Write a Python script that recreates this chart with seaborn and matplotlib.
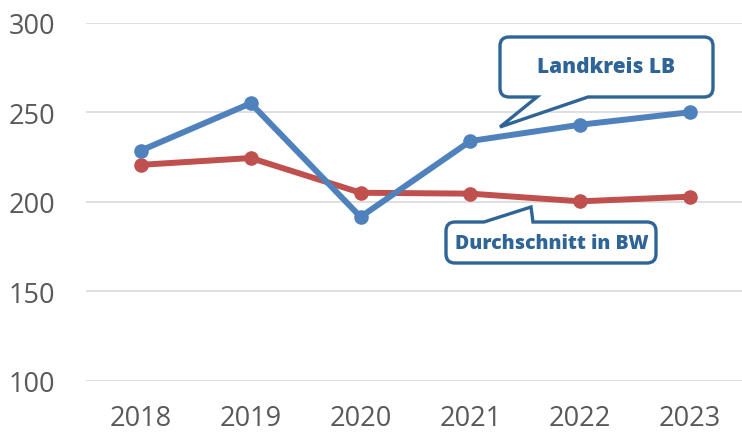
import matplotlib
matplotlib.use("Agg")
import matplotlib.pyplot as plt
import seaborn as sns
import pandas as pd
from matplotlib.path import Path
from matplotlib.patches import PathPatch

years = ["2018", "2019", "2020", "2021", "2022", "2023"]
landkreis_lb = [228.6, 255.0, 191.5, 233.9, 243.0, 250.0]
durchschnitt_bw = [220.6, 224.4, 205.0, 204.5, 200.2, 202.8]
yticks = [100, 150, 200, 250, 300]
label_lb = "Landkreis LB"
label_bw = "Durchschnitt in BW"

BLUE = "#4F81BD"
RED = "#C0504D"
DARK = "#2F6497"

sns.set_theme(style="white")
plt.rcParams["font.family"] = ["Open Sans", "DejaVu Sans"]

W, H = 742, 435
fig = plt.figure(figsize=(W / 100, H / 100), dpi=100)
ax = fig.add_axes([86 / W, 1 - 381.7 / H, 1 - 86 / W + 3 / W, (381.7 - 23.7) / H])

df = pd.DataFrame({"year": years, "lb": landkreis_lb, "bw": durchschnitt_bw})
sns.lineplot(data=df, x="year", y="bw", ax=ax, color=RED, linewidth=4.3,
             marker="o", markersize=10.5, markeredgewidth=0, sort=False, zorder=3)
sns.lineplot(data=df, x="year", y="lb", ax=ax, color=BLUE, linewidth=4.3,
             marker="o", markersize=10.5, markeredgewidth=0, sort=False, zorder=4)

ax.set_ylim(100, 300)
ax.set_xlim(-0.5, len(years) - 0.5)
ax.set_yticks(yticks)
ax.set_xlabel("")
ax.set_ylabel("")
ax.grid(axis="y", color="#D9D9D9", linewidth=1.2)
ax.grid(axis="x", visible=False)
ax.set_axisbelow(True)
for s in ax.spines.values():
    s.set_visible(False)
ax.tick_params(axis="both", length=0, labelsize=19.5, labelcolor="#595959")
ax.tick_params(axis="y", pad=22)
ax.tick_params(axis="x", pad=17)


def px(x, y):
    return (x / W, 1 - y / H)


def callout(x0, y0, x1, y1, r, side, ba, bb, tip):
    verts, codes = [], []

    def mv(p):
        verts.append(px(*p)); codes.append(Path.MOVETO)

    def ln(p):
        verts.append(px(*p)); codes.append(Path.LINETO)

    def cv(c, p):
        verts.append(px(*c)); codes.append(Path.CURVE3)
        verts.append(px(*p)); codes.append(Path.CURVE3)

    mv((x0 + r, y0))
    if side == "top":
        ln((ba, y0)); ln(tip); ln((bb, y0))
    ln((x1 - r, y0)); cv((x1, y0), (x1, y0 + r))
    ln((x1, y1 - r)); cv((x1, y1), (x1 - r, y1))
    if side == "bottom":
        ln((bb, y1)); ln(tip); ln((ba, y1))
    ln((x0 + r, y1)); cv((x0, y1), (x0, y1 - r))
    ln((x0, y0 + r)); cv((x0, y0), (x0 + r, y0))
    verts.append(px(x0 + r, y0)); codes.append(Path.CLOSEPOLY)
    patch = PathPatch(Path(verts, codes), transform=fig.transFigure,
                      facecolor="white", edgecolor=DARK, linewidth=2.4,
                      joinstyle="miter", zorder=10)
    fig.add_artist(patch)


callout(500, 38, 713, 98, 9, "bottom", 537, 588, (500, 128))
fig.text(*px(606, 68), label_lb, ha="center", va="center", color=DARK,
         fontsize=15, fontweight="heavy", zorder=11)

callout(446, 223, 656, 264, 9, "top", 484, 533, (531, 208))
fig.text(*px(552, 244), label_bw, ha="center", va="center", color=DARK,
         fontsize=14, fontweight="heavy", zorder=11)

fig.savefig("out.png", dpi=100)
